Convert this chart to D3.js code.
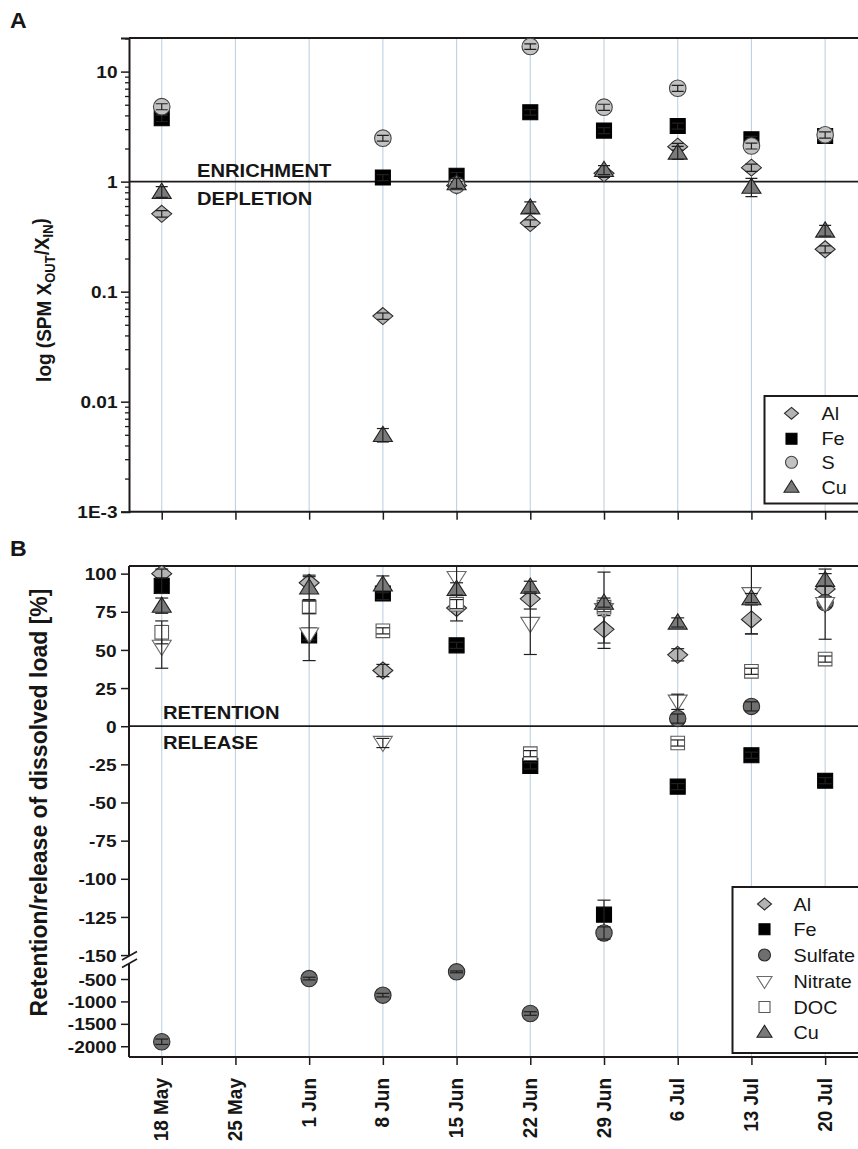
<!DOCTYPE html>
<html><head><meta charset="utf-8">
<script src="https://cdn.jsdelivr.net/npm/d3@7"></script>
<style>
body{margin:0;background:#fff;}
text{font-family:"Liberation Sans",Arial,Helvetica,sans-serif;fill:#161616;}
</style>
</head><body>
<svg id="c" width="858" height="1149"></svg>
<script>
// ---------- data ----------
const dates = ["18 May","25 May","1 Jun","8 Jun","15 Jun","22 Jun","29 Jun","6 Jul","13 Jul","20 Jul"];

// Panel A: SPM X_out / X_in
const alA = [0.51, null, null, 0.060, 0.92, 0.42, 1.19, 2.08, 1.34, 0.243];
const feA = [3.77, null, null, 1.09, 1.13, 4.27, 2.91, 3.2, 2.43, 2.6];
const sA  = [4.8, null, null, 2.48, 0.93, 16.9, 4.75, 7.06, 2.11, 2.66];
const cuA = [0.81, null, null, 0.005, 0.97, 0.585, 1.28, 1.84, 0.90, 0.36];
const alAErr = [0.035, null, null, 0.004, 0.07, 0.03, 0.1, 0.15, 0.1, 0.018];
const feAErr = [0.25, null, null, 0.07, 0.08, 0.25, 0.18, 0.2, 0.15, 0.15];
const sAErr  = [0.3, null, null, 0.15, 0.07, 1.0, 0.3, 0.45, 0.13, 0.17];
const cuAErr = [0.09, null, null, 0.0007, 0.1, 0.07, 0.12, 0.25, 0.17, 0.04];
const ticksA = [0.001, 0.01, 0.1, 1, 10];
const tickLabelsA = ["1E-3", "0.01", "0.1", "1", "10"];

// Panel B: retention / release of dissolved load [%]
const alB      = [100, null, 94, 36.5, 77.5, 83.5, 63.5, 46.8, 70, 90];
const feB      = [92, null, 59.5, 87, 53, -26, -123.5, -39.6, -19, -35.7];
const sulfateB = [-1900, null, -490, -860, -340, -1270, -135.5, 5, 13, 81];
const nitrateB = [52, null, 60, -11, 97, 67, 76, 16, 86.5, 80];
const docB     = [61.5, null, 78, 62.5, 80, -18, 78, -11, 36, 44];
const cuB      = [79, null, 91, 93, 90, 91.5, 81, 68, 84, 96];
const alBErr      = [3, null, 4, 4, 8.5, 6.7, 9, 4, 9.5, 5];
const feBErr      = [5, null, 3, 4, 2, 2, 9.5, 2, 2, 2];
const sulfateBErr = [60, null, 30, 40, 20, 40, 4, 3, 3, 3];
const nitrateBErr = [14, null, 17, 3, 10, 20, 25, 5, 26, 23];
const docBErr     = [7.5, null, 4, 2, 3, 2, 3, 2, 2, 2];
const cuBErr      = [5, null, 8, 5.5, 4, 3.5, 3, 3, 3, 4];
const ticksBUpper = [100, 75, 50, 25, 0, -25, -50, -75, -100, -125, -150];
const ticksBLower = [-500, -1000, -1500, -2000];

// ---------- layout ----------
const svg = d3.select("#c");
const L = 129, R = 862;
const A_TOP = 38, A_BOT = 511.7;
const B_TOP = 566, B_BOT = 1057;
const SX = 1.12; // horizontal text stretch of the reference

const x = d3.scaleLinear().domain([-0.444, 9.5]).range([L, R]);
const yA = d3.scaleLog().domain([0.001, 20.2]).range([A_BOT, A_TOP]);
const yBu = d3.scaleLinear().domain([-152.5, 105]).range([958.9, B_TOP]);
const yBl = d3.scaleLinear().domain([-2240, -250]).range([B_BOT, 967.8]);
const yB = v => (v >= -152.5 ? yBu(v) : yBl(v));

const dark = "#1e1a1a";
const gridC = "#bfd2e2";

// clip paths
const defs = svg.append("defs");
defs.append("clipPath").attr("id","clipA").append("rect")
  .attr("x", L).attr("y", A_TOP).attr("width", R - L).attr("height", A_BOT - A_TOP);
defs.append("clipPath").attr("id","clipB").append("rect")
  .attr("x", L).attr("y", B_TOP).attr("width", R - L).attr("height", B_BOT - B_TOP);

// symbol shapes
const shapes = {
  diamond: (s) => `M0,${-0.85*s}L${s},0L0,${0.85*s}L${-s},0Z`,
  square: (s) => `M${-s},${-s}H${s}V${s}H${-s}Z`,
  circle: (s) => `M${s},0A${s},${s} 0 1,1 ${-s},0A${s},${s} 0 1,1 ${s},0Z`,
  up: (s) => `M0,${-0.9*s}L${s},${0.7*s}L${-s},${0.7*s}Z`,
  down: (s) => `M0,${0.9*s}L${s},${-0.7*s}L${-s},${-0.7*s}Z`
};

function stext(g, px, py, str, size, weight, anchor, sx) {
  return g.append("text")
    .attr("transform", `translate(${px},${py}) scale(${sx || SX},1)`)
    .attr("text-anchor", anchor || "start")
    .style("font-size", size + "px")
    .style("font-weight", weight || "bold")
    .text(str);
}

// ---------- Panel A ----------
const gA = svg.append("g");
// gridlines
gA.selectAll(".gridA").data(dates).enter().append("line")
  .attr("x1", (d,i) => x(i)).attr("x2", (d,i) => x(i))
  .attr("y1", A_TOP).attr("y2", A_BOT)
  .attr("stroke", gridC).attr("stroke-width", 1.1);
// reference line at 1
gA.append("line").attr("x1", L).attr("x2", R).attr("y1", yA(1)).attr("y2", yA(1))
  .attr("stroke", dark).attr("stroke-width", 1.8);
// frame top
gA.append("line").attr("x1", L).attr("x2", R).attr("y1", A_TOP).attr("y2", A_TOP)
  .attr("stroke", dark).attr("stroke-width", 2);

// y axis A
const minorA = yA.ticks(40).filter(v => ticksA.indexOf(v) < 0 && v <= 20.2);
const axMinorA = d3.axisLeft(yA).tickValues(minorA).tickSize(4).tickFormat("");
gA.append("g").attr("transform", `translate(${L},0)`).call(axMinorA)
  .call(g => g.select(".domain").remove())
  .call(g => g.selectAll("line").attr("stroke", dark).attr("stroke-width", 1.3));
const axA = d3.axisLeft(yA).tickValues(ticksA).tickSize(8)
  .tickFormat((d,i) => tickLabelsA[i]);
gA.append("g").attr("transform", `translate(${L},0)`).call(axA)
  .call(g => g.select(".domain").attr("stroke", dark).attr("stroke-width", 2))
  .call(g => g.selectAll("line").attr("stroke", dark).attr("stroke-width", 1.5))
  .call(g => g.selectAll("text").attr("x", 0).attr("dy", "0.36em")
      .attr("transform", `translate(-11.5,0) scale(${SX},1)`)
      .style("font-size", "17px").style("font-weight", "bold")
      .style("font-family", "Liberation Sans, Arial, sans-serif").attr("fill", "#161616"));
// x axis A (ticks only)
const axAx = d3.axisBottom(x).tickValues(d3.range(dates.length)).tickSize(8).tickFormat("");
gA.append("g").attr("transform", `translate(0,${A_BOT})`).call(axAx)
  .call(g => g.select(".domain").attr("stroke", dark).attr("stroke-width", 2).attr("d", `M${L},0H${R}`))
  .call(g => g.selectAll("line").attr("stroke", dark).attr("stroke-width", 1.5));

// texts A
stext(svg, 10, 28, "A", 22, "bold", "start", 1.05);
stext(gA, 197, 176.5, "ENRICHMENT", 18);
stext(gA, 197, 205, "DEPLETION", 18);

// y title A
const tA = gA.append("text")
  .attr("transform", `translate(51,300) scale(1.06,1) rotate(-90)`)
  .attr("text-anchor", "middle")
  .style("font-size", "19px").style("font-weight", "bold");
tA.append("tspan").text("log (SPM X");
tA.append("tspan").attr("dy", "0.3em").style("font-size", "13px").text("OUT");
tA.append("tspan").attr("dy", "-0.3em").text("/X");
tA.append("tspan").attr("dy", "0.3em").style("font-size", "13px").text("IN");
tA.append("tspan").attr("dy", "-0.3em").text(")");

// series A
const seriesA = [
  {name:"Al", vals: alA, err: alAErr, shape:"diamond", size:10, fill:"#b3b3b3", stroke:"#2b2b2b", lsize:7},
  {name:"Fe", vals: feA, err: feAErr, shape:"square", size:7.5, fill:"#000", stroke:"#000", lsize:5.5},
  {name:"S",  vals: sA,  err: sAErr,  shape:"circle", size:8.3, fill:"#c2c2c2", stroke:"#454545", lsize:6},
  {name:"Cu", vals: cuA, err: cuAErr, shape:"up", size:9.5, fill:"#7a7a7a", stroke:"#222", lsize:7.5}
];
const plotA = gA.append("g").attr("clip-path", "url(#clipA)");
seriesA.forEach(s => {
  const pts = s.vals.map((v,i) => ({i, v, e: s.err[i]})).filter(p => p.v != null);
  plotA.selectAll(null).data(pts).enter().append("path")
    .attr("d", shapes[s.shape](s.size))
    .attr("transform", p => `translate(${x(p.i)},${yA(p.v)})`)
    .attr("fill", s.fill).attr("stroke", s.stroke).attr("stroke-width", 1.1);
  const eb = plotA.selectAll(null).data(pts).enter().append("g").attr("stroke", "#202020").attr("stroke-width", 1.2);
  eb.append("line").attr("x1", p => x(p.i)).attr("x2", p => x(p.i))
    .attr("y1", p => yA(p.v + p.e)).attr("y2", p => yA(Math.max(p.v - p.e, 1e-4)));
  eb.append("line").attr("x1", p => x(p.i) - 6).attr("x2", p => x(p.i) + 6)
    .attr("y1", p => yA(p.v + p.e)).attr("y2", p => yA(p.v + p.e));
  eb.append("line").attr("x1", p => x(p.i) - 6).attr("x2", p => x(p.i) + 6)
    .attr("y1", p => yA(p.v - p.e)).attr("y2", p => yA(p.v - p.e));
});

// legend A
const legA = gA.append("g");
legA.append("rect").attr("x", 764.5).attr("y", 396).attr("width", 120).attr("height", 107.5)
  .attr("fill", "#fff").attr("stroke", dark).attr("stroke-width", 2);
const legAY = [413.3, 438.7, 462.3, 487];
seriesA.forEach((s, k) => {
  legA.append("path").attr("d", shapes[s.shape](s.lsize))
    .attr("transform", `translate(791.5,${legAY[k]})`)
    .attr("fill", s.fill).attr("stroke", s.stroke).attr("stroke-width", 1.1);
  stext(legA, 821.5, legAY[k] + 6.5, s.name, 18, "normal", "start", 1.1);
});

// ---------- Panel B ----------
const gB = svg.append("g");
gB.selectAll(".gridB").data(dates).enter().append("line")
  .attr("x1", (d,i) => x(i)).attr("x2", (d,i) => x(i))
  .attr("y1", B_TOP).attr("y2", B_BOT)
  .attr("stroke", gridC).attr("stroke-width", 1.1);
gB.append("line").attr("x1", L).attr("x2", R).attr("y1", yB(0)).attr("y2", yB(0))
  .attr("stroke", dark).attr("stroke-width", 1.8);
gB.append("line").attr("x1", L).attr("x2", R).attr("y1", B_TOP).attr("y2", B_TOP)
  .attr("stroke", dark).attr("stroke-width", 2);

// y axis B upper
const axBu = d3.axisLeft(yBu).tickValues(ticksBUpper).tickSize(8).tickFormat(d3.format("d"));
const axBl = d3.axisLeft(yBl).tickValues(ticksBLower).tickSize(8).tickFormat(d3.format("d"));
[axBu, axBl].forEach(ax => {
  gB.append("g").attr("transform", `translate(${L},0)`).call(ax)
    .call(g => g.select(".domain").remove())
    .call(g => g.selectAll("line").attr("stroke", dark).attr("stroke-width", 1.5))
    .call(g => g.selectAll("text").attr("x", 0).attr("dy", "0.36em")
        .attr("transform", `translate(-12.5,0) scale(${SX},1)`)
        .text(function(){ return d3.select(this).text().replace("\u2212", "-"); })
        .style("font-size", "17px").style("font-weight", "bold")
        .style("font-family", "Liberation Sans, Arial, sans-serif").attr("fill", "#161616"));
});
// axis line with break
gB.append("line").attr("x1", L).attr("x2", L).attr("y1", B_TOP).attr("y2", 956)
  .attr("stroke", dark).attr("stroke-width", 2);
gB.append("line").attr("x1", L).attr("x2", L).attr("y1", 963.5).attr("y2", B_BOT)
  .attr("stroke", dark).attr("stroke-width", 2);
gB.append("line").attr("x1", 122).attr("x2", 137).attr("y1", 960).attr("y2", 951.5)
  .attr("stroke", dark).attr("stroke-width", 1.6);
gB.append("line").attr("x1", 122).attr("x2", 137).attr("y1", 967.5).attr("y2", 959)
  .attr("stroke", dark).attr("stroke-width", 1.6);

// x axis B with labels
const axBx = d3.axisBottom(x).tickValues(d3.range(dates.length)).tickSize(8)
  .tickFormat((d) => dates[d]);
gB.append("g").attr("transform", `translate(0,${B_BOT})`).call(axBx)
  .call(g => g.select(".domain").attr("stroke", dark).attr("stroke-width", 2).attr("d", `M${L},0H${R}`))
  .call(g => g.selectAll("line").attr("stroke", dark).attr("stroke-width", 1.5))
  .call(g => g.selectAll("text").attr("x", 0).attr("y", 0).attr("dy", "0.36em")
      .attr("text-anchor", "end")
      .attr("transform", `translate(-1.5,21) scale(1.1,1) rotate(-90)`)
      .style("font-size", "19px").style("font-weight", "bold")
      .style("font-family", "Liberation Sans, Arial, sans-serif").attr("fill", "#161616"));

// texts B
stext(svg, 10, 556, "B", 22, "bold", "start", 1.05);
stext(gB, 163, 718.5, "RETENTION", 18);
stext(gB, 163, 748.5, "RELEASE", 18);
gB.append("text")
  .attr("transform", `translate(47,802.5) scale(1.03,1) rotate(-90)`)
  .attr("text-anchor", "middle")
  .style("font-size", "23px").style("font-weight", "bold")
  .text("Retention/release of dissolved load [%]");

// series B
const seriesB = [
  {name:"Al",      vals: alB,      err: alBErr,      shape:"diamond", size:10,  fill:"#b3b3b3", stroke:"#2b2b2b", lsize:7},
  {name:"Fe",      vals: feB,      err: feBErr,      shape:"square",  size:7.5, fill:"#000",    stroke:"#000",    lsize:5.5},
  {name:"Sulfate", vals: sulfateB, err: sulfateBErr, shape:"circle",  size:8.2, fill:"#6f6f6f", stroke:"#2b2b2b", lsize:6},
  {name:"Nitrate", vals: nitrateB, err: nitrateBErr, shape:"down",    size:9.5, fill:"#fff",    stroke:"#6a6a6a", lsize:7.5},
  {name:"DOC",     vals: docB,     err: docBErr,     shape:"square",  size:6.8, fill:"#fff",    stroke:"#5a5a5a", lsize:5.5},
  {name:"Cu",      vals: cuB,      err: cuBErr,      shape:"up",      size:9.5, fill:"#7a7a7a", stroke:"#222",    lsize:7.5}
];
const plotB = gB.append("g").attr("clip-path", "url(#clipB)");
seriesB.forEach(s => {
  const pts = s.vals.map((v,i) => ({i, v, e: s.err[i]})).filter(p => p.v != null);
  plotB.selectAll(null).data(pts).enter().append("path")
    .attr("d", shapes[s.shape](s.size))
    .attr("transform", p => `translate(${x(p.i)},${yB(p.v)})`)
    .attr("fill", s.fill).attr("stroke", s.stroke).attr("stroke-width", 1.1);
  const eb = plotB.selectAll(null).data(pts).enter().append("g").attr("stroke", "#202020").attr("stroke-width", 1.2);
  eb.append("line").attr("x1", p => x(p.i)).attr("x2", p => x(p.i))
    .attr("y1", p => yB(p.v + p.e)).attr("y2", p => yB(p.v - p.e));
  eb.append("line").attr("x1", p => x(p.i) - 6.5).attr("x2", p => x(p.i) + 6.5)
    .attr("y1", p => yB(p.v + p.e)).attr("y2", p => yB(p.v + p.e));
  eb.append("line").attr("x1", p => x(p.i) - 6.5).attr("x2", p => x(p.i) + 6.5)
    .attr("y1", p => yB(p.v - p.e)).attr("y2", p => yB(p.v - p.e));
});

// legend B
const legB = gB.append("g");
legB.append("rect").attr("x", 732.5).attr("y", 887).attr("width", 150).attr("height", 166)
  .attr("fill", "#fff").attr("stroke", dark).attr("stroke-width", 2);
const legBY = [904, 929.3, 955, 981.7, 1007, 1032];
seriesB.forEach((s, k) => {
  legB.append("path").attr("d", shapes[s.shape](s.lsize))
    .attr("transform", `translate(764.5,${legBY[k]})`)
    .attr("fill", s.fill).attr("stroke", s.stroke).attr("stroke-width", 1.1);
  stext(legB, 793.5, legBY[k] + 6.5, s.name, 18, "normal", "start", 1.1);
});
</script>
</body></html>
